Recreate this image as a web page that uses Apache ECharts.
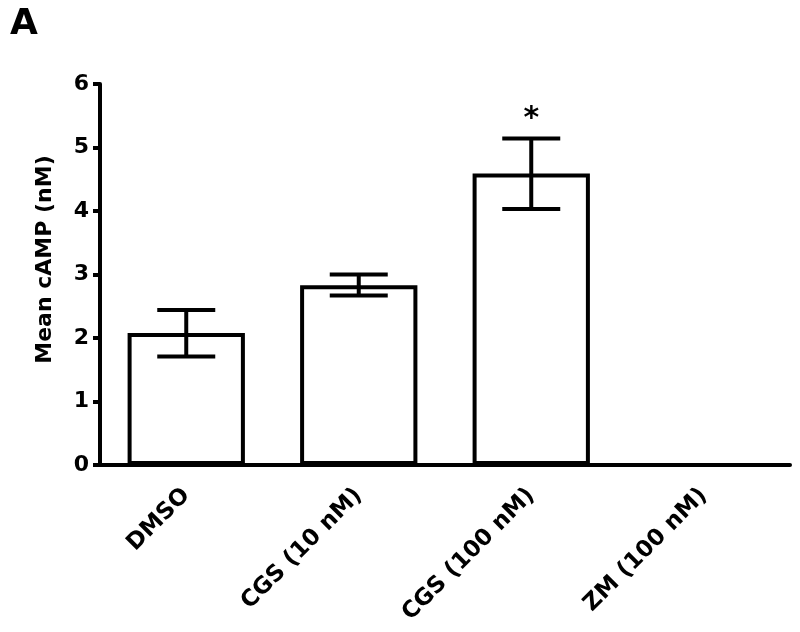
<!DOCTYPE html>
<html>
<head>
<meta charset="utf-8">
<script src="https://cdn.jsdelivr.net/npm/echarts@6/dist/echarts.min.js"></script>
<style>html,body{margin:0;padding:0;background:#fff;}#c{width:800px;height:632px;}</style>
</head>
<body>
<div id="c"></div>
<script>
const categories = ['DMSO', 'CGS (10 nM)', 'CGS (100 nM)', 'ZM (100 nM)'];
const means = [2.08, 2.83, 4.59, null];
const errLow = [1.71, 2.67, 4.03, null];
const errHigh = [2.44, 3.00, 5.14, null];
const marks = ['', '', '*', ''];
const yTicks = [0, 1, 2, 3, 4, 5, 6];

const chart = echarts.init(document.getElementById('c'));
const errData = categories.map((c, i) => [i, errLow[i], errHigh[i], marks[i]]);
const font = '"DejaVu Sans", Arial, sans-serif';

chart.setOption({
  animation: false,
  backgroundColor: '#fff',
  title: {
    text: 'A', left: 5, top: 2,
    textStyle: { fontFamily: font, fontWeight: 'bold', fontSize: 36, color: '#000' }
  },
  grid: { left: 100, right: 10, top: 84, bottom: 167, containLabel: false },
  xAxis: {
    type: 'category',
    data: categories,
    axisLine: { lineStyle: { color: '#000', width: 4 } },
    axisTick: { alignWithLabel: true, length: 7, lineStyle: { color: '#000', width: 4 } },
    axisLabel: {
      rotate: 45, margin: 27, color: '#000',
      fontFamily: font, fontWeight: 'bold', fontSize: 23
    },
    splitLine: { show: false }
  },
  yAxis: {
    type: 'value', min: yTicks[0], max: yTicks[yTicks.length - 1], interval: 1,
    name: 'Mean cAMP (nM)', nameLocation: 'middle', nameGap: 44,
    nameTextStyle: { fontFamily: font, fontWeight: 'bold', fontSize: 22, color: '#000', padding: [0, 0, 0, 30] },
    axisLine: { show: true, lineStyle: { color: '#000', width: 4 } },
    axisTick: { show: true, length: 7, lineStyle: { color: '#000', width: 4 } },
    axisLabel: { color: '#000', fontFamily: font, fontWeight: 'bold', fontSize: 22, margin: 11 },
    splitLine: { show: false }
  },
  series: [
    {
      type: 'bar',
      data: means,
      barWidth: '68%',
      itemStyle: { color: '#fff', borderColor: '#000', borderWidth: 4 },
      z: 2
    },
    {
      type: 'custom',
      data: errData,
      z: 3,
      renderItem: function (params, api) {
        const lo = api.value(1), hi = api.value(2);
        if (lo == null || isNaN(lo)) return null;
        const x = api.value(0);
        const pLo = api.coord([x, lo]);
        const pHi = api.coord([x, hi]);
        const half = 29;
        const style = { stroke: '#000', lineWidth: 4 };
        const children = [
          { type: 'line', shape: { x1: pLo[0], y1: pLo[1], x2: pHi[0], y2: pHi[1] }, style: style },
          { type: 'line', shape: { x1: pLo[0] - half, y1: pLo[1], x2: pLo[0] + half, y2: pLo[1] }, style: style },
          { type: 'line', shape: { x1: pHi[0] - half, y1: pHi[1], x2: pHi[0] + half, y2: pHi[1] }, style: style }
        ];
        const mark = marks[params.dataIndex];
        if (mark) {
          children.push({
            type: 'text',
            style: {
              text: mark, x: pHi[0], y: pHi[1] - 4,
              align: 'center', verticalAlign: 'bottom',
              font: 'bold 30px ' + font, fill: '#000'
            }
          });
        }
        return { type: 'group', children: children };
      }
    }
  ]
});
</script>
</body>
</html>
